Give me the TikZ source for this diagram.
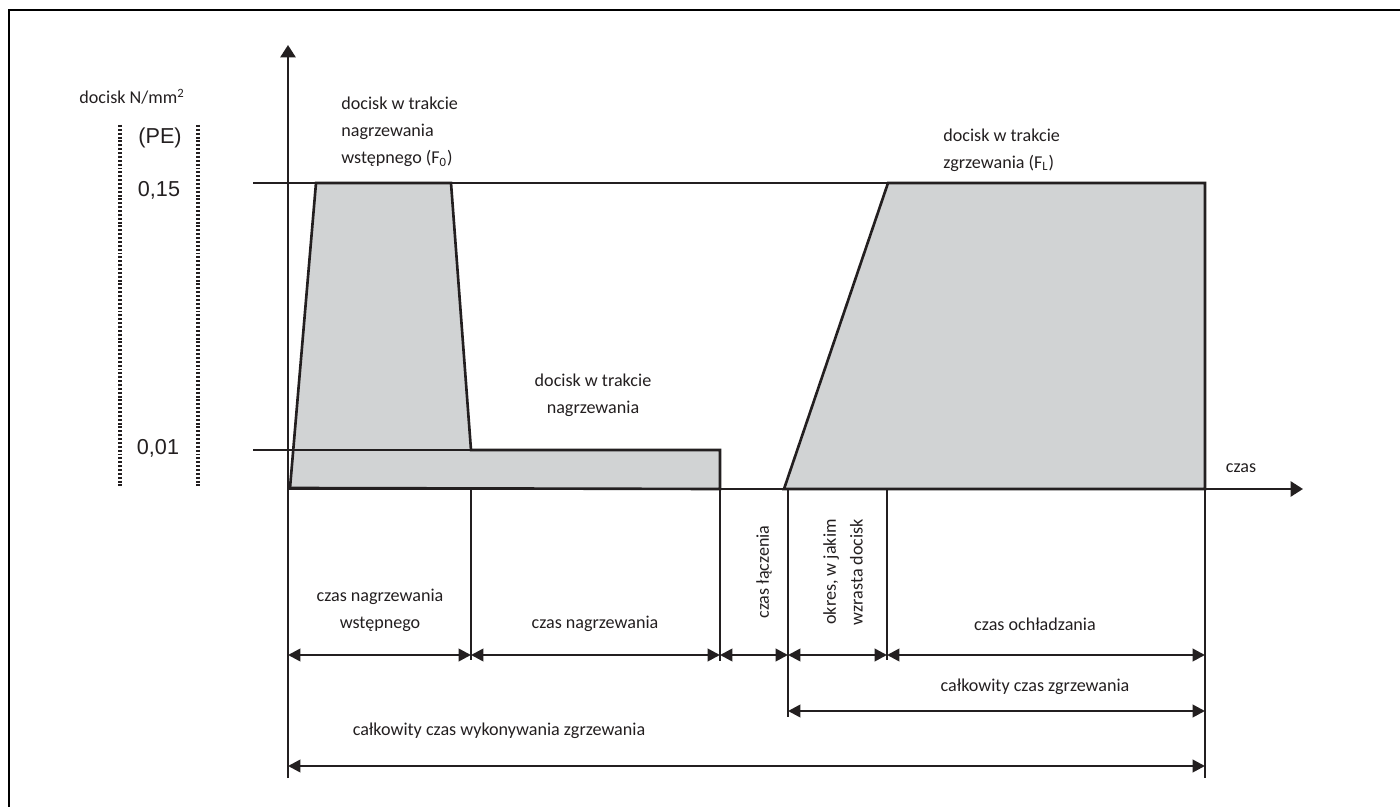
\documentclass[tikz,border=0pt]{standalone}
\usepackage{fontspec}
\setmainfont{Carlito}
\newfontfamily\arialf{Liberation Sans}
\usetikzlibrary{arrows.meta}
\definecolor{shade}{HTML}{D1D3D4}
\definecolor{ink}{HTML}{231F20}
\begin{document}
\begin{tikzpicture}[x=0.02cm,y=-0.02cm,
  ln/.style={line width=1.5pt, draw=ink},
  frame/.style={line width=1.1pt, draw=black},
  area/.style={line width=1.5pt, draw=ink, fill=shade, line join=miter},
  axis/.style={line width=1.5pt, draw=ink, -{Triangle[length=7pt,width=8.5pt]}},
  dim/.style={line width=1.5pt, draw=ink, {Triangle[length=7pt,width=7pt]}-{Triangle[length=7pt,width=7pt]}},
  dots/.style={line width=1.8pt, draw=ink, dash pattern=on 1.1pt off 1.1pt},
  lbl/.style={font=\fontsize{10.3}{15.3}\selectfont, text=ink, inner sep=0pt, align=center},
  num/.style={font=\arialf\fontsize{12.3}{14}\selectfont, text=ink, inner sep=0pt}]
\useasboundingbox (0,0) rectangle (1400,807);
% frame (top and left edges visible)
\coordinate (fTL) at (9,10);
\coordinate (fTR) at (1400,10);
\coordinate (fBL) at (9,807);
\draw[frame] (fTR) -- (fTL) -- (fBL);

% key coordinates
\coordinate (O) at (288,489);
\coordinate (Ytop) at (288,45);
\coordinate (Ybot) at (288,778);
\coordinate (Xend) at (1303,489);
\coordinate (hiL) at (253,183);
\coordinate (hiR) at (1205,183);
\coordinate (loL) at (253,450);
\coordinate (loR) at (720,450);

% shaded areas
\draw[area] (290,488) -- (316,183) -- (451,183) -- (471,450) -- (720,450) -- (720,489) -- cycle;
\draw[area] (784,489) -- (888,183) -- (1205,183) -- (1205,489) -- cycle;

% level lines
\draw[ln] (hiL) -- (hiR);
\draw[ln] (loL) -- (loR);

% axes
\draw[axis] (Ybot) -- (Ytop);
\draw[axis] (O) -- (Xend);

% extension lines
\coordinate (t1) at (471,489);
\coordinate (t2) at (720,489);
\coordinate (t3) at (788,489);
\coordinate (t4) at (887,489);
\coordinate (t5) at (1205,489);
\draw[ln] (t1) -- (471,660);
\draw[ln] (t2) -- (720,661);
\draw[ln] (t3) -- (788,717);
\draw[ln] (t4) -- (887,660);
\draw[ln] (t5) -- (1205,778);

% dimension arrows
\draw[dim] (288,655) -- (471,655);
\draw[dim] (471,655) -- (720,655);
\draw[dim] (720,655) -- (788,655);
\draw[dim] (788,655) -- (887,655);
\draw[dim] (887,655) -- (1205,655);
\draw[dim] (788,711) -- (1205,711);
\draw[dim] (288,766) -- (1205,766);

% dotted scale lines
\draw[dots] (120,125) -- (120,487);
\draw[dots] (198,125) -- (198,487);

% left scale texts
\node[lbl] (ttl) at (132,97) {docisk N/mm\textsuperscript{2}};
\node[num] (pe) at (160,138) {(PE)};
\node[num] (v15) at (159,190) {0,15};
\node[num] (v01) at (158,448) {0,01};

% upper labels
\node[lbl, anchor=west, align=left] (lF0) at (341,132) {docisk w trakcie\\nagrzewania\\wstępnego (F\textsubscript{0})};
\node[lbl] (lmid) at (593,395) {docisk w trakcie\\nagrzewania};
\node[lbl, anchor=west, align=left] (lFL) at (943,150) {docisk w trakcie\\zgrzewania (F\textsubscript{L})};
\node[lbl] (czas) at (1241,468) {czas};

% lower labels
\node[lbl] (d1) at (380,610) {czas nagrzewania\\wstępnego};
\node[lbl] (d2) at (595,624) {czas nagrzewania};
\node[lbl, rotate=90] (d3) at (764,572) {czas łączenia};
\node[lbl, rotate=90] (d4) at (843,572) {okres, w jakim\\wzrasta docisk};
\node[lbl] (d5) at (1035,624) {czas ochładzania};
\node[lbl] (d6) at (1035,687) {całkowity czas zgrzewania};
\node[lbl] (d7) at (499,731) {całkowity czas wykonywania zgrzewania};
\end{tikzpicture}
\end{document}
